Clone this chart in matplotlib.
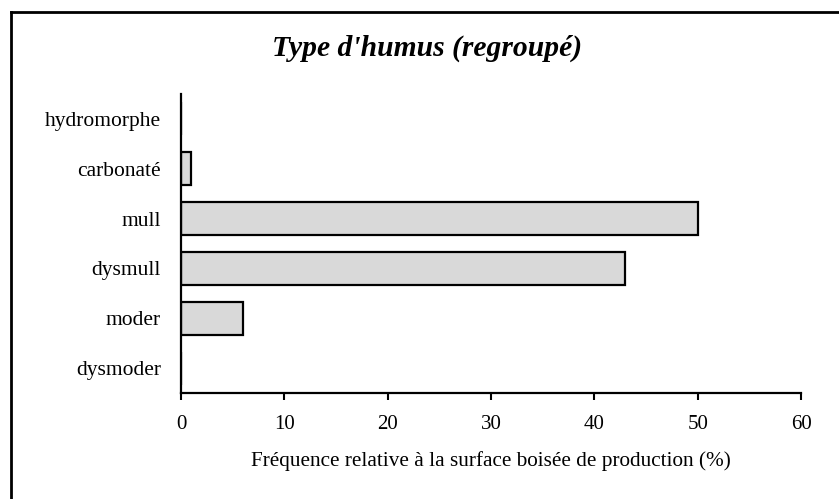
import matplotlib.pyplot as plt
from matplotlib.lines import Line2D

categories = ["dysmoder", "moder", "dysmull", "mull", "carbonaté", "hydromorphe"]
values = [0, 6, 43, 50, 1, 0]

plt.rcParams['font.family'] = ['Liberation Serif', 'DejaVu Serif']

fig = plt.figure(figsize=(8.39, 4.99), dpi=100)
ax = fig.add_axes([181/839, 1-393/499, 620/839, 299/499])

ax.barh(range(len(categories)), values, height=0.66, color='#d9d9d9',
        edgecolor='black', linewidth=1.6)

ax.set_xlim(0, 60)
ax.set_ylim(-0.5, len(categories)-0.5)
ax.set_xticks(range(0, 61, 10))
ax.set_yticks(range(len(categories)))
ax.set_yticklabels(categories)
ax.tick_params(axis='y', length=0, pad=14.5, labelsize=15.5)
ax.tick_params(axis='x', length=5, width=1.5, direction='out', pad=11, labelsize=15)
for s in ['top', 'right']:
    ax.spines[s].set_visible(False)
for s in ['left', 'bottom']:
    ax.spines[s].set_linewidth(1.6)

ax.set_xlabel("Fréquence relative à la surface boisée de production (%)", fontsize=15.3, labelpad=12)
fig.text(427/839, 1-48/499, "Type d'humus (regroupé)", ha='center', va='center',
         fontsize=21.3, fontweight='bold', style='italic')

# cadre autour du graphique
fig.add_artist(Line2D([11/839, 1], [1-12/499, 1-12/499], color='black', lw=2, transform=fig.transFigure))
fig.add_artist(Line2D([11/839, 11/839], [0, 1-12/499], color='black', lw=2, transform=fig.transFigure))

fig.savefig("out.png", dpi=100)
